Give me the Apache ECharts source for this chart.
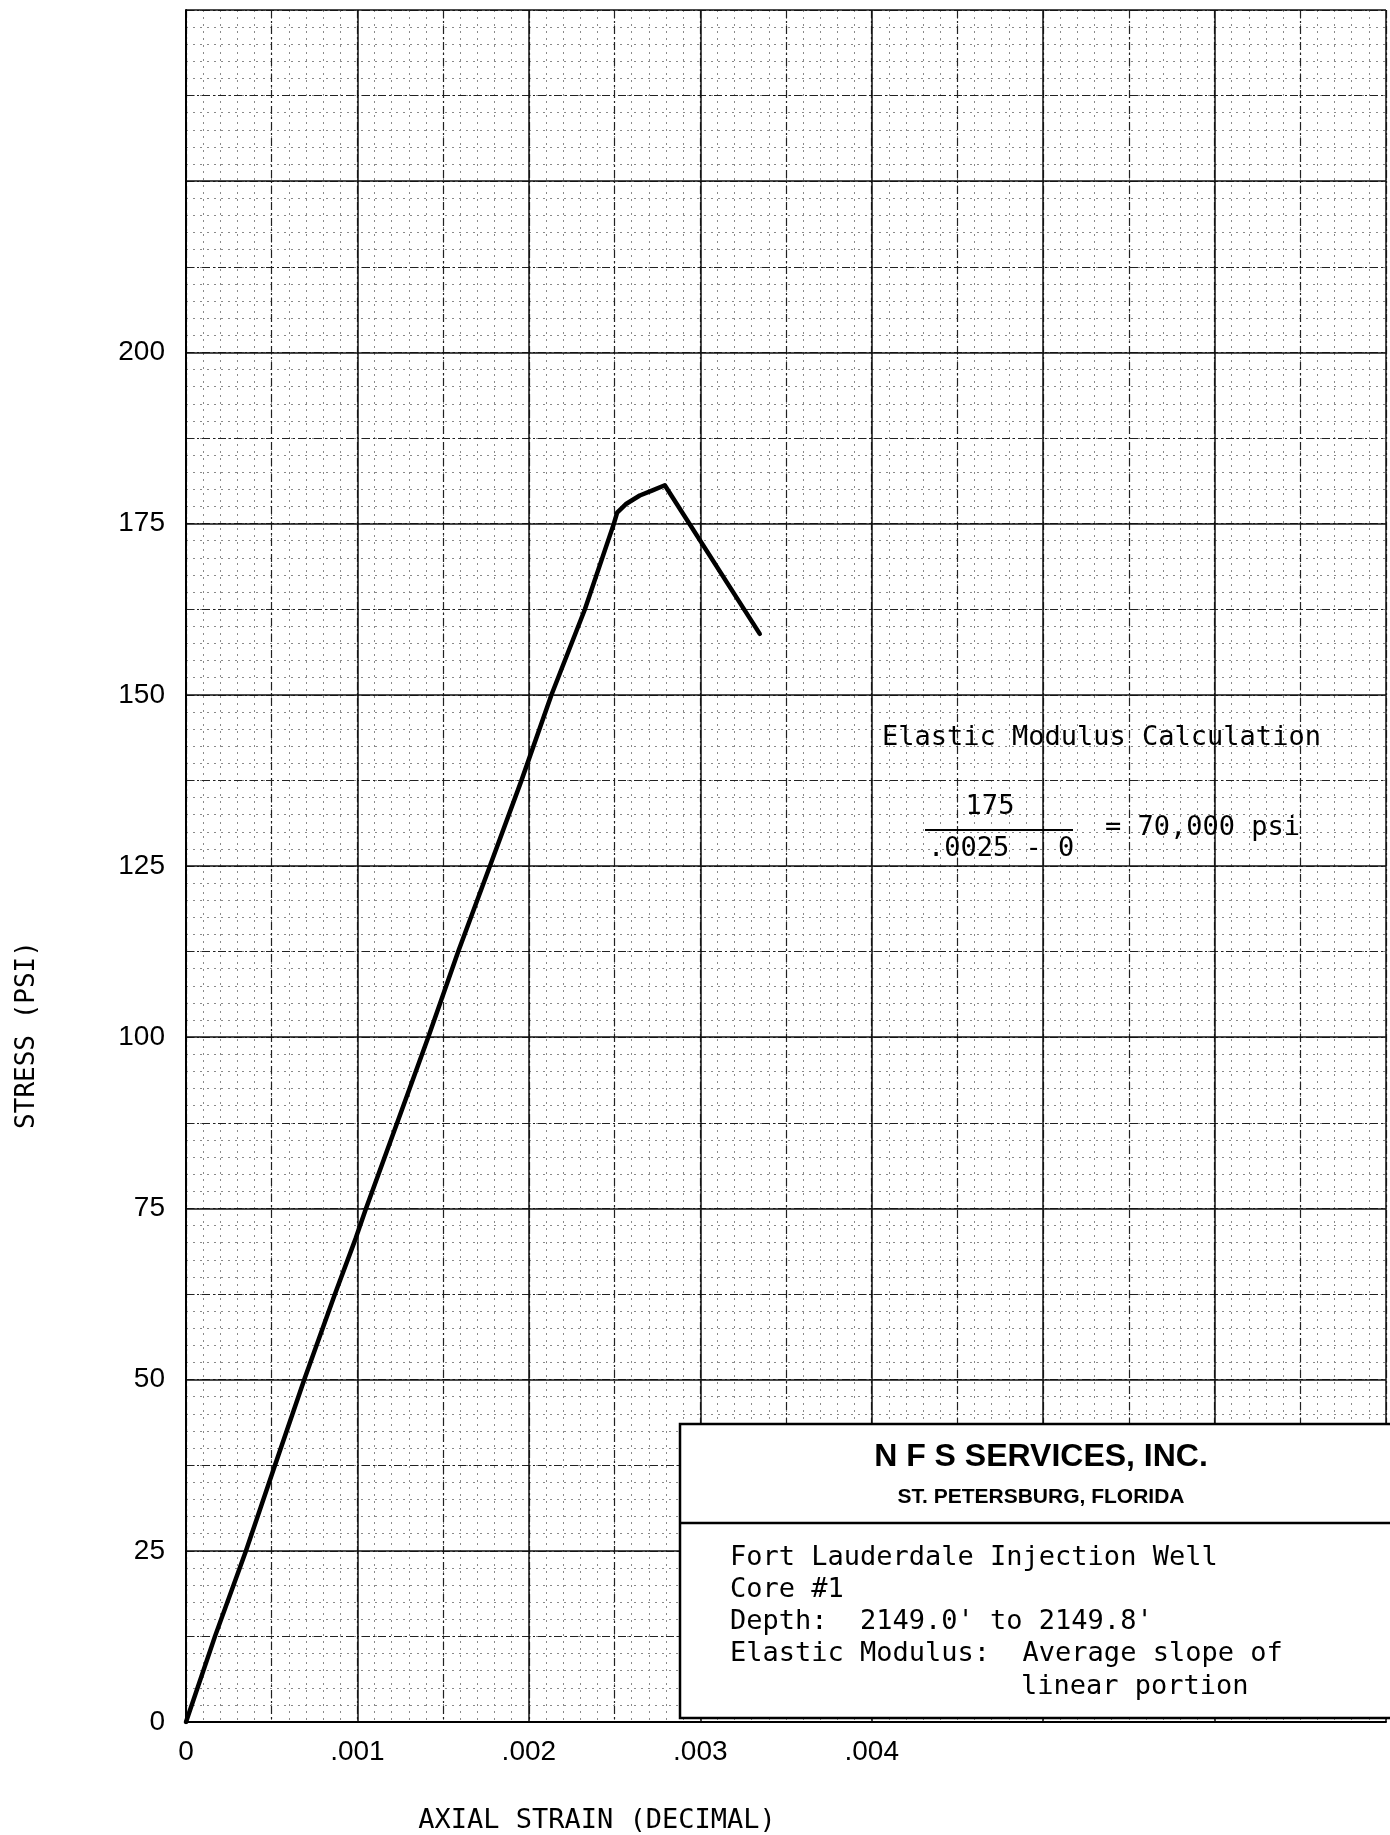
<!DOCTYPE html>
<html>
<head>
<meta charset="utf-8">
<script src="https://cdn.jsdelivr.net/npm/echarts@6/dist/echarts.min.js"></script>
<style>
  html, body { margin: 0; padding: 0; background: #fff; }
  #chart { width: 1390px; height: 1835px; }
</style>
</head>
<body>
<div id="chart"></div>
<script>
// ---- data ----
const strain = [0, 0.000169, 0.00035, 0.000519, 0.00069, 0.000869, 0.000991, 0.00105, 0.001232, 0.001413, 0.001588, 0.001773, 0.001957, 0.002132, 0.002327, 0.002496, 0.002515, 0.002569, 0.002647, 0.002725, 0.002793, 0.003347];
const stress = [0, 12.5, 25, 37.5, 50, 62.5, 70.7, 75, 87.5, 100, 112.5, 125, 137.5, 150, 162.5, 175, 176.6, 177.9, 179.1, 179.9, 180.6, 158.9];
const xTickLabels = ['0', '.001', '.002', '.003', '.004'];
const yTickLabels = ['0', '25', '50', '75', '100', '125', '150', '175', '200'];
const xAxisTitle = 'AXIAL STRAIN (DECIMAL)';
const yAxisTitle = 'STRESS (PSI)';
const calcTitle = 'Elastic Modulus Calculation';
const calcNumerator = '175';
const calcDenominator = '.0025 - 0';
const calcResult = '= 70,000 psi';
const companyName = 'N F S SERVICES, INC.';
const companyCity = 'ST. PETERSBURG, FLORIDA';
const infoLines = ['Fort Lauderdale Injection Well', 'Core #1', "Depth:  2149.0' to 2149.8'", 'Elastic Modulus:  Average slope of'];
const infoLastLine = 'linear portion';

const MONO = '"DejaVu Sans Mono", monospace';
const SANS = '"Liberation Sans", Arial, sans-serif';

const chart = echarts.init(document.getElementById('chart'), null, { renderer: 'canvas' });

function axisSet(kind) {
  const isX = kind === 'x';
  const max = isX ? 0.007 : 250;
  const major = isX ? 0.001 : 25;
  const mid = isX ? 0.0005 : 12.5;
  const minor = isX ? 0.0001 : 2.5;
  const base = { type: 'value', min: 0, max: max, gridIndex: 0 };
  return [
    Object.assign({}, base, {
      interval: minor, z: 0,
      axisLine: { show: false }, axisTick: { show: false }, axisLabel: { show: false },
      splitLine: { show: true, lineStyle: { color: '#8a8a8a', width: 1, type: [2, 5] } }
    }),
    Object.assign({}, base, {
      interval: mid, z: 1,
      axisLine: { show: false }, axisTick: { show: false }, axisLabel: { show: false },
      splitLine: { show: true, lineStyle: { color: '#222', width: 1.2, type: [8, 3, 2, 3] } }
    }),
    Object.assign({}, base, {
      interval: major, z: 2,
      axisLine: { show: true, onZero: false, lineStyle: { color: '#000', width: 2 } },
      axisTick: { show: false },
      splitLine: { show: true, lineStyle: { color: '#111', width: 1.5, type: 'solid' } },
      axisLabel: {
        show: true,
        color: '#000',
        fontFamily: SANS,
        fontSize: 28,
        margin: isX ? 16 : 21,
        hideOverlap: false,
        formatter: function (v) {
          const i = Math.round(v / major);
          const arr = isX ? xTickLabels : yTickLabels;
          return i < arr.length ? arr[i] : '';
        }
      }
    })
  ];
}

const textStyle = (t, x, y, font, align) => ({
  type: 'text', x: x, y: y, z: 100,
  style: { text: t, font: font, fill: '#000', align: align || 'left', verticalAlign: 'middle' }
});

const graphics = [
  textStyle(xAxisTitle, 597, 1821, '27px ' + MONO, 'center'),
  {
    type: 'text', x: 27, y: 1035, rotation: Math.PI / 2, z: 100,
    style: { text: yAxisTitle, font: '26px ' + MONO, fill: '#000', align: 'center', verticalAlign: 'middle' }
  },
  textStyle(calcTitle, 882, 738, '27px ' + MONO),
  textStyle(calcNumerator, 990, 807, '27px ' + MONO, 'center'),
  { type: 'line', z: 100, shape: { x1: 925, y1: 830, x2: 1073, y2: 830 }, style: { stroke: '#000', lineWidth: 2 } },
  textStyle(calcDenominator, 928, 849, '27px ' + MONO),
  textStyle(calcResult, 1105, 828, '27px ' + MONO),
  { type: 'rect', z: 90, shape: { x: 680, y: 1424, width: 720, height: 294 }, style: { fill: '#fff', stroke: '#000', lineWidth: 2.5 } },
  { type: 'line', z: 95, shape: { x1: 680, y1: 1523, x2: 1400, y2: 1523 }, style: { stroke: '#000', lineWidth: 2.5 } },
  textStyle(companyName, 1041, 1457, 'bold 32px ' + SANS, 'center'),
  textStyle(companyCity, 1041, 1497, 'bold 21px ' + SANS, 'center')
];
const lineYs = [1558, 1590, 1622, 1654];
infoLines.forEach((t, i) => graphics.push(textStyle(t, 730, lineYs[i], '27px ' + MONO)));
graphics.push(textStyle(infoLastLine, 1021, 1687, '27px ' + MONO));

const xs = axisSet('x');
const ys = axisSet('y');

chart.setOption({
  backgroundColor: '#fff',
  animation: false,
  grid: { left: 186, top: 10, right: 4, bottom: 113, containLabel: false },
  xAxis: [xs[2], xs[1], xs[0]],
  yAxis: [ys[2], ys[1], ys[0]],
  series: [{
    type: 'line',
    xAxisIndex: 0,
    yAxisIndex: 0,
    z: 10,
    symbol: 'none',
    smooth: false,
    lineStyle: { color: '#000', width: 4.5, join: 'round', cap: 'round' },
    data: strain.map((s, i) => [s, stress[i]])
  }],
  graphic: graphics
});
</script>
</body>
</html>
